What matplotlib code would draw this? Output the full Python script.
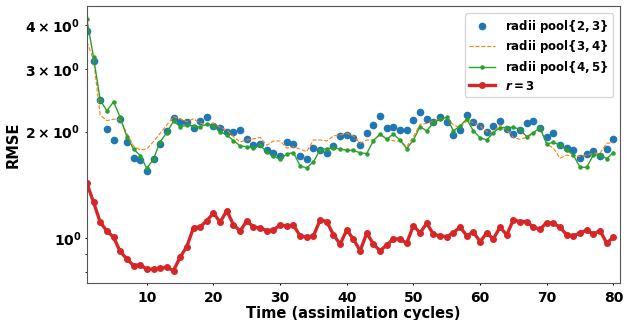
import numpy as np
import matplotlib
matplotlib.use("Agg")
import matplotlib.pyplot as plt

cycles = list(range(1, 81))

pool_23 = [3.85, 3.17, 2.46, 2.03, 1.895, 2.17, 1.875, 1.683, 1.66, 1.549,
           1.675, 1.847, 2.01, 2.18, 2.13, 2.13, 2.053, 2.145, 2.206, 2.08,
           2.049, 1.993, 1.997, 2.018, 1.904, 1.834, 1.842, 1.78, 1.739, 1.704,
           1.871, 1.847, 1.704, 1.672, 1.796, 1.776, 1.746, 1.82, 1.949, 1.958,
           1.924, 1.831, 1.98, 2.085, 2.216, 2.045, 2.058, 2.027, 2.018, 2.163,
           2.278, 2.17, 2.135, 2.197, 2.125, 1.958, 2.027, 2.226, 2.13, 2.072,
           1.997, 2.08, 2.14, 2.04, 1.975, 2.023, 2.12, 2.147, 2.053, 1.936,
           1.98, 1.831, 1.796, 1.772, 1.683, 1.73, 1.764, 1.708, 1.785, 1.912]

pool_34 = [3.59, 3.19, 2.23, 2.149, 2.17, 2.16, 1.98, 1.823, 1.776, 1.788,
           1.875, 1.98, 2.09, 2.206, 2.175, 2.135, 2.175, 2.113, 2.099, 2.113,
           2.058, 2.023, 1.936, 1.871, 1.895, 1.908, 1.928, 1.831, 1.883, 1.883,
           1.796, 1.815, 1.785, 1.757, 1.895, 1.895, 1.883, 1.945, 1.958, 1.98,
           1.945, 1.855, 1.895, 1.895, 1.958, 1.915, 1.883, 1.883, 1.815, 1.936,
           2.099, 2.11, 2.147, 2.17, 2.183, 2.09, 2.053, 2.147, 2.12, 2.076,
           2.0, 1.988, 2.09, 2.023, 1.924, 1.904, 1.928, 1.971, 2.053, 1.847,
           1.796, 1.683, 1.718, 1.70, 1.705, 1.718, 1.739, 1.739, 1.855, 1.863]

pool_45 = [4.16, 3.245, 2.46, 2.29, 2.43, 2.197, 1.936, 1.788, 1.712, 1.576,
           1.675, 1.875, 1.988, 2.145, 2.067, 2.085, 2.076, 2.067, 2.099, 2.076,
           2.0, 1.958, 1.887, 1.823, 1.815, 1.796, 1.83, 1.753, 1.708, 1.672,
           1.73, 1.746, 1.60, 1.58, 1.646, 1.776, 1.791, 1.798, 1.788, 1.772,
           1.772, 1.742, 1.735, 1.887, 1.971, 1.904, 1.971, 1.892, 1.791, 1.895,
           2.067, 2.01, 2.12, 2.17, 2.197, 2.01, 2.076, 2.17, 2.01, 1.924,
           1.895, 1.988, 2.053, 2.053, 2.058, 2.03, 1.936, 1.988, 2.053, 1.847,
           1.867, 1.831, 1.776, 1.718, 1.587, 1.587, 1.718, 1.718, 1.679, 1.746]

r3 = [1.43, 1.264, 1.11, 1.048, 1.0065, 0.917, 0.874, 0.837, 0.841, 0.817,
      0.818, 0.823, 0.828, 0.810, 0.884, 0.947, 1.071, 1.076, 1.121, 1.177,
      1.11, 1.197, 1.09, 1.048, 1.119, 1.076, 1.067, 1.051, 1.055, 1.09,
      1.083, 1.088, 1.015, 1.0065, 1.015, 1.126, 1.114, 1.022, 0.962, 1.055,
      0.9935, 0.921, 1.033, 0.962, 0.921, 0.957, 0.9955, 0.9935, 0.968, 1.085,
      1.035, 1.102, 1.026, 1.015, 1.010, 1.037, 1.074, 1.017, 1.040, 0.978,
      1.033, 0.9955, 1.074, 1.022, 1.126, 1.114, 1.114, 1.074, 1.060, 1.107,
      1.102, 1.074, 1.022, 1.017, 1.033, 1.055, 1.026, 1.051, 0.968, 1.0065]

labels = [r'radii pool$\{2, 3\}$', r'radii pool$\{3, 4\}$',
          r'radii pool$\{4, 5\}$', r'$r = 3$']

plt.rcParams['font.weight'] = 'bold'
plt.rcParams['axes.labelweight'] = 'bold'
plt.rcParams['mathtext.fontset'] = 'custom'
plt.rcParams['mathtext.rm'] = 'DejaVu Sans:bold'
plt.rcParams['mathtext.bf'] = 'DejaVu Sans:bold'
plt.rcParams['mathtext.it'] = 'DejaVu Sans:italic:bold'
plt.rcParams['mathtext.default'] = 'it'

fig = plt.figure(figsize=(6.25, 3.2), dpi=100)
ax = fig.add_axes([0.139, 0.115, 0.853, 0.866])

ax.plot(cycles, pool_23, 'o', color='#1f77b4', markersize=4.5, label=labels[0])
ax.plot(cycles, pool_34, '--', color='#ff7f0e', linewidth=0.8, label=labels[1])
ax.plot(cycles, pool_45, '-', color='#2ca02c', linewidth=1.0, marker='o',
        markersize=2.2, label=labels[2])
ax.plot(cycles, r3, '-', color='#d62728', linewidth=2.4, marker='o',
        markersize=4, label=labels[3])

ax.set_yscale('log')
ax.set_xlim(1, 81)
ax.set_ylim(0.746, 4.53)
ax.set_xlabel('Time (assimilation cycles)', fontsize=10.5, fontweight='bold',
              labelpad=1)
ax.set_ylabel('RMSE', fontsize=10.5, fontweight='bold', labelpad=3)
ax.tick_params(axis='x', which='major', labelsize=10, length=1.5, pad=4)
ax.tick_params(axis='y', which='major', labelsize=10, length=1.5, pad=2.5)
ax.tick_params(axis='both', which='minor', length=1.5)
for s in ax.spines.values():
    s.set_color('#555555')

ax.legend(loc='upper right', fontsize=8.5, labelspacing=0.3,
          handlelength=2.2, borderaxespad=0.6)

fig.savefig('out.png', dpi=100)
